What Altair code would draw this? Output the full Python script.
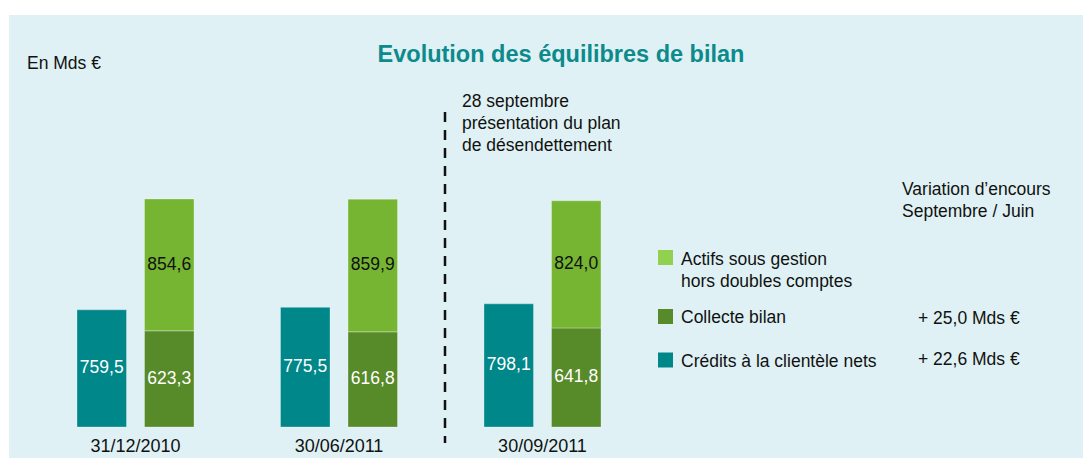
import altair as alt
import pandas as pd

# ---- data ----
dates = ["31/12/2010", "30/06/2011", "30/09/2011"]
credits = [759.5, 775.5, 798.1]
collecte = [623.3, 616.8, 641.8]
actifs = [854.6, 859.9, 824.0]

series_names = ["Crédits à la clientèle nets", "Collecte bilan",
                "Actifs sous gestion hors doubles comptes"]
series_cols = ["credits", "bilan", "bilan"]
legend_labels = [["Actifs sous gestion", "hors doubles comptes"],
                 ["Collecte bilan"],
                 ["Crédits à la clientèle nets"]]
variation_header = ["Variation d\u2019encours", "Septembre / Juin"]
variation_values = ["+ 25,0 Mds \u20ac", "+ 22,6 Mds \u20ac"]
annotation = ["28 septembre", "présentation du plan", "de désendettement"]
title_text = "Evolution des équilibres de bilan"
unit_text = "En Mds \u20ac"

# ---- styles ----
FONT = "Liberation Sans"
BG = "#dff1f4"
TEAL = "#00878a"
DARK = "#578a28"
LIGHT = "#76b531"
LIGHT_LEG = "#92d050"
TXT = "#111111"
bar_colors = [TEAL, DARK, LIGHT]
legend_colors = [LIGHT_LEG, DARK, TEAL]

rows = []
for i, d in enumerate(dates):
    for k, vals in enumerate([credits, collecte, actifs]):
        rows.append({"date": d, "series": series_names[k], "col": series_cols[k],
                     "order": k, "value": vals[i]})
df = pd.DataFrame(rows)

W, H = 1074, 443

x_enc = alt.X("date:N", sort=dates,
              scale=alt.Scale(range=[68, 592], paddingInner=0.425, paddingOuter=0,
                              round=False),
              axis=alt.Axis(title=None, labelAngle=0, domain=False, ticks=False,
                            grid=False, offset=-31, labelPadding=10,
                            labelFont=FONT, labelFontSize=18, labelColor=TXT))
xo_enc = alt.XOffset("col:N", sort=["credits", "bilan"],
                     scale=alt.Scale(paddingInner=0.2667, paddingOuter=0, round=False))
y_scale = alt.Scale(domain=[-200.9, 2670], nice=False, zero=False)

base = (alt.Chart(df)
        .transform_stack(stack="value", groupby=["date", "col"], as_=["y0", "y1"],
                         sort=[alt.SortField("order", "ascending")])
        .transform_calculate(mid="(datum.y0 + datum.y1) / 2",
                             label="replace(format(datum.value, '.1f'), '.', ',')"))

bars = base.mark_bar(stroke="white", strokeOpacity=0.3, strokeWidth=1).encode(
    x=x_enc, xOffset=xo_enc,
    y=alt.Y("y1:Q", scale=y_scale, axis=None),
    y2="y0:Q",
    color=alt.Color("series:N", scale=alt.Scale(domain=series_names, range=bar_colors),
                    legend=None),
)

labels = base.mark_text(font=FONT, fontSize=17.5, baseline="middle", align="center").encode(
    x=alt.X("date:N", sort=dates), xOffset=alt.XOffset("col:N", sort=["credits", "bilan"]),
    y=alt.Y("mid:Q"),
    text="label:N",
    color=alt.condition("datum.order == 2", alt.value(TXT), alt.value("white")),
)

one = pd.DataFrame({"a": [0]})


def txt(text, x, y, **kw):
    props = dict(font=FONT, fontSize=17.5, color=TXT, align="left",
                 baseline="alphabetic", lineHeight=22)
    props.update(kw)
    return alt.Chart(one).mark_text(text=text, **props).encode(
        x=alt.value(x), y=alt.value(y))


layers = [bars, labels]
layers.append(txt(unit_text, 18, 54))
layers.append(txt(title_text, 552, 47, fontSize=23.5, fontWeight="bold",
                  color="#0c8a8c", align="center"))
layers.append(txt(annotation, 453, 92))
layers.append(alt.Chart(one).mark_rule(strokeDash=[10, 8], strokeWidth=2.5, color=TXT)
              .encode(x=alt.value(436), y=alt.value(97), y2=alt.value(428)))

# legend
leg_sq_y = [242.5, 301.5, 345]
leg_txt_y = [250, 308, 352]
for lab, col, sy, ty in zip(legend_labels, legend_colors, leg_sq_y, leg_txt_y):
    layers.append(alt.Chart(one).mark_square(size=225, color=col, opacity=1)
                  .encode(x=alt.value(656.5), y=alt.value(sy)))
    layers.append(txt(lab, 672, ty))

layers.append(txt(variation_header, 893, 180))
layers.append(txt(variation_values[0], 909, 309))
layers.append(txt(variation_values[1], 909, 350))

chart = (alt.layer(*layers)
         .properties(width=W, height=H, background="white",
                     autosize=alt.AutoSizeParams(type="none"),
                     padding={"left": 1, "top": 7, "right": 0, "bottom": 0})
         .configure_view(fill=BG, stroke=None))

chart.save("out.html", embed_options={"renderer": "svg", "actions": False})
